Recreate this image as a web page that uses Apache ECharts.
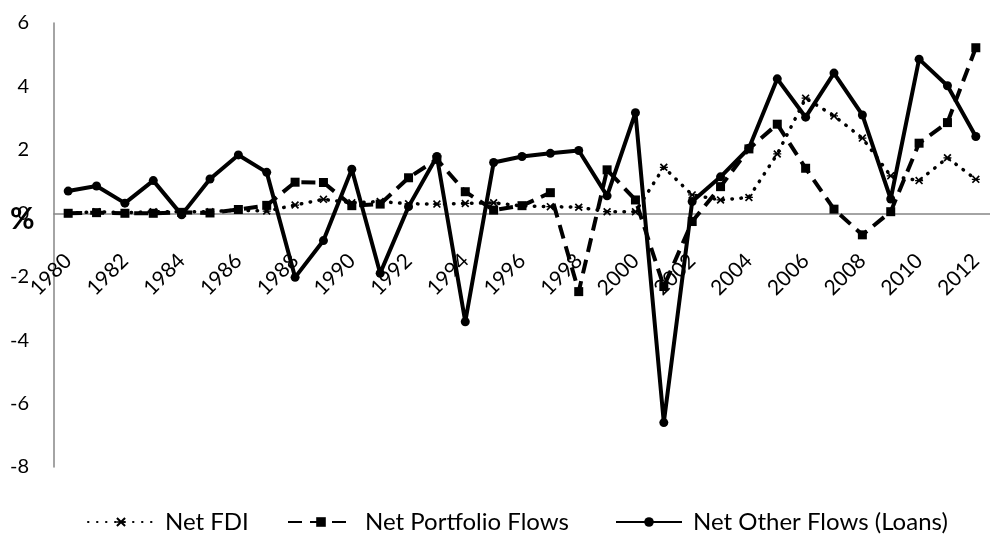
<!DOCTYPE html>
<html>
<head>
<meta charset="utf-8">
<script src="https://cdn.jsdelivr.net/npm/echarts@6/dist/echarts.min.js"></script>
<style>
  html, body { margin: 0; padding: 0; background: #ffffff; }
  #chart { width: 990px; height: 534px; }
</style>
</head>
<body>
<div id="chart"></div>
<script>
// Net capital flows, % of GDP, 1980–2012
const years = ['1980','1981','1982','1983','1984','1985','1986','1987','1988','1989',
               '1990','1991','1992','1993','1994','1995','1996','1997','1998','1999',
               '2000','2001','2002','2003','2004','2005','2006','2007','2008','2009',
               '2010','2011','2012'];

const netFdi = [0.00, 0.05, 0.02, 0.05, 0.05, 0.05, 0.10, 0.07, 0.26, 0.44,
                0.33, 0.37, 0.30, 0.29, 0.31, 0.33, 0.23, 0.21, 0.19, 0.05,
                0.05, 1.45, 0.58, 0.42, 0.50, 1.87, 3.63, 3.07, 2.37, 1.18,
                1.03, 1.75, 1.07];

const netPortfolio = [0.00, 0.02, 0.00, 0.00, 0.03, 0.01, 0.12, 0.25, 0.98, 0.97,
                      0.24, 0.29, 1.12, 1.70, 0.68, 0.10, 0.24, 0.65, -2.47, 1.37,
                      0.42, -2.31, -0.26, 0.84, 2.03, 2.81, 1.42, 0.13, -0.68, 0.05,
                      2.21, 2.86, 5.22];

const netOther = [0.70, 0.86, 0.32, 1.03, -0.05, 1.08, 1.84, 1.29, -2.02, -0.86,
                  1.39, -1.89, 0.21, 1.79, -3.42, 1.60, 1.79, 1.89, 1.98, 0.55,
                  3.17, -6.60, 0.37, 1.15, 2.05, 4.24, 3.03, 4.42, 3.10, 0.45,
                  4.86, 4.02, 2.42];

const yTicks = { min: -8, max: 6, step: 2 };
const seriesNames = ['Net FDI', 'Net Portfolio Flows', 'Net Other Flows (Loans)'];

const FONT = 'Lato, "Open Sans", sans-serif';
const AXIS_GREY = '#868686';
// asterisk-like marker: an X with a horizontal bar
const starMark = 'path://M1.5,0 L5,3.5 L8.5,0 L10,1.5 L6.5,5 L10,8.5 L8.5,10 L5,6.5 L1.5,10 L0,8.5 L3.5,5 L0,1.5 Z M0,4.2 L10,4.2 L10,5.8 L0,5.8 Z';

// plot box
const PLOT = { left: 54, top: 23, width: 946, height: 444 };
// upper grid ends exactly at y = 0 so the year labels hang from the zero line
const zeroOffset = PLOT.height * yTicks.max / (yTicks.max - yTicks.min);
const Y_LABEL_MARGIN = 25;

const chart = echarts.init(document.getElementById('chart'), null, { renderer: 'canvas' });

function legendAt(left, name) {
  return {
    data: [name],
    left: left,
    top: 505,
    itemWidth: 66,
    itemHeight: 12,
    itemGap: 0,
    textStyle: { fontFamily: FONT, fontSize: 24, color: '#000', padding: [0, 0, 0, 6] },
    selectedMode: false
  };
}

chart.setOption({
  animation: false,
  backgroundColor: '#ffffff',
  grid: [
    { left: PLOT.left, top: PLOT.top, width: PLOT.width, height: PLOT.height, containLabel: false },
    { left: PLOT.left, top: PLOT.top, width: PLOT.width, height: zeroOffset, containLabel: false }
  ],
  legend: [
    legendAt(82, seriesNames[0]),
    legendAt(282, seriesNames[1]),
    legendAt(610, seriesNames[2])
  ],
  xAxis: [
    {
      type: 'category',
      gridIndex: 0,
      data: years,
      boundaryGap: true,
      axisLine: { onZero: true, lineStyle: { color: AXIS_GREY, width: 1.5 } },
      axisTick: { show: false },
      axisLabel: { show: false },
      splitLine: { show: false }
    },
    {
      type: 'category',
      gridIndex: 1,
      data: years,
      boundaryGap: true,
      position: 'bottom',
      axisLine: { show: false, onZero: false },
      axisTick: { show: false },
      axisLabel: {
        interval: 1,
        rotate: 45,
        margin: 44,
        fontFamily: FONT,
        fontSize: 21,
        color: '#000'
      },
      splitLine: { show: false }
    }
  ],
  yAxis: [
    {
      type: 'value',
      gridIndex: 0,
      min: yTicks.min,
      max: yTicks.max,
      interval: yTicks.step,
      axisLine: { show: true, onZero: false, lineStyle: { color: AXIS_GREY, width: 1.5 } },
      axisTick: { show: false },
      axisLabel: {
        margin: Y_LABEL_MARGIN, fontFamily: FONT, fontSize: 20, color: '#000',
        formatter: v => (v === 0 ? '' : String(v))
      },
      splitLine: { show: false }
    },
    {
      type: 'value',
      gridIndex: 1,
      show: false
    }
  ],
  series: [
    {
      name: seriesNames[0],
      type: 'line',
      data: netFdi,
      symbol: starMark,
      symbolSize: 8,
      showAllSymbol: true,
      lineStyle: { color: '#000', width: 3.5, type: [0.5, 8.5], cap: 'round' },
      itemStyle: { color: '#000' },
      z: 3
    },
    {
      name: seriesNames[1],
      type: 'line',
      data: netPortfolio,
      symbol: 'rect',
      symbolSize: 9,
      showAllSymbol: true,
      lineStyle: { color: '#000', width: 4, type: [14, 8] },
      itemStyle: { color: '#000' },
      z: 4
    },
    {
      name: seriesNames[2],
      type: 'line',
      data: netOther,
      symbol: 'circle',
      symbolSize: 9,
      showAllSymbol: true,
      lineStyle: { color: '#000', width: 4 },
      itemStyle: { color: '#000' },
      z: 5
    }
  ]
});

// the "0" tick sits where the x axis crosses; place it from the value scale, with the "%" unit over it
const zeroY = chart.convertToPixel({ yAxisIndex: 0 }, 0);
chart.setOption({
  graphic: [
    {
      type: 'text',
      x: PLOT.left - Y_LABEL_MARGIN,
      y: zeroY,
      z: 10,
      style: { text: '0', font: '20px ' + FONT, fill: '#000', align: 'right', verticalAlign: 'middle' }
    },
    {
      type: 'text',
      x: 10,
      y: zeroY + 6,
      z: 11,
      style: { text: '%', font: 'bold 30px ' + FONT, fill: '#000', align: 'left', verticalAlign: 'middle' }
    }
  ]
});
</script>
</body>
</html>
